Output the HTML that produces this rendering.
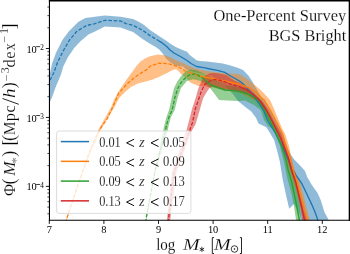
<!DOCTYPE html>
<html><head><meta charset="utf-8"><style>
html,body{margin:0;padding:0;background:#fff;}
body{width:350px;height:254px;overflow:hidden;}
svg{display:block;will-change:transform;}
text{font-family:"Liberation Serif",serif;fill:#000;stroke:#fff;stroke-width:0.3px;stroke-opacity:0.6;}
.tk,.sup{stroke:none;}
.lg{font-size:14px;}
.lgz{font-size:14.5px;}
.tk{font-size:10.4px;}
.sup{font-size:7.2px;}
.tt{font-size:17.2px;}
.xl{font-size:16px;}
.xls{font-size:10px;}
.yl{font-size:16.5px;}
</style></head><body>
<svg width="350" height="254" viewBox="0 0 350 254">
<rect width="350" height="254" fill="#fff"/>
<defs><clipPath id="ax"><rect x="49.45" y="0.70" width="299.90" height="219.60"/></clipPath></defs>
<g clip-path="url(#ax)">
<polygon points="44.0,95.0 49.5,75.0 52.1,63.6 56.1,52.6 62.4,40.0 68.7,31.5 78.5,21.7 85.4,18.1 95.0,16.7 104.8,15.4 120.6,16.7 126.0,17.7 133.1,18.9 137.8,21.2 143.7,24.8 150.0,30.0 155.7,33.8 161.3,37.6 167.0,41.3 170.0,43.5 175.7,47.1 181.3,49.5 187.0,51.8 190.0,55.2 196.6,60.2 199.5,61.0 207.0,61.6 215.0,62.5 222.7,63.5 229.7,65.3 237.6,67.8 243.0,70.0 248.4,75.5 252.0,81.0 256.0,88.0 260.0,95.0 263.5,100.0 268.0,107.0 270.0,110.0 274.0,118.0 278.0,126.0 282.0,134.0 285.5,142.0 288.5,150.0 291.0,155.0 294.7,160.0 299.4,164.7 305.0,171.0 307.3,177.3 312.0,185.2 317.6,193.1 320.7,200.0 324.4,212.0 329.0,220.4 332.0,228.0 303.0,228.0 300.0,215.0 294.0,204.0 289.2,208.8 286.0,195.0 282.8,180.0 279.8,161.5 276.9,149.7 274.0,139.8 270.0,133.0 266.3,127.3 258.5,123.4 256.0,117.8 251.3,111.5 245.0,106.8 238.0,101.0 233.0,94.0 225.0,86.0 212.0,76.0 200.0,73.0 193.2,71.7 186.0,69.5 183.0,66.5 175.5,65.7 170.0,62.0 166.0,58.5 163.0,54.0 159.5,49.8 155.7,47.0 150.0,43.8 142.5,39.0 137.8,35.4 133.1,31.9 126.0,29.5 120.6,27.5 104.8,26.6 95.0,31.5 88.4,34.4 80.5,41.3 74.2,47.9 67.9,57.3 63.2,66.8 60.8,75.0 56.1,86.0 52.1,97.0 49.5,103.0 44.0,118.0" fill="#1f77b4" fill-opacity="0.50" stroke="none"/>
<polygon points="65.5,228.0 66.1,220.0 78.8,182.0 87.8,156.0 98.4,129.7 111.5,106.5 113.9,100.0 118.5,91.5 123.4,84.2 128.0,77.5 132.8,70.9 136.5,66.0 140.4,61.5 145.0,58.6 150.0,56.3 157.9,54.4 164.2,55.2 168.9,56.8 175.5,60.0 180.0,62.0 183.0,63.0 188.0,65.5 195.4,68.5 206.5,71.0 217.5,72.5 226.0,73.3 238.8,74.0 246.0,78.0 254.4,84.7 260.7,90.0 265.5,95.0 270.0,100.0 274.5,110.0 278.5,120.0 282.0,128.0 285.5,135.0 289.0,146.0 291.5,158.0 294.8,170.0 299.8,182.0 303.5,195.0 307.0,210.0 309.8,220.0 311.0,228.0 305.0,228.0 304.0,220.0 303.0,215.0 300.0,205.0 297.0,195.0 293.0,182.0 289.0,170.0 285.5,158.0 282.0,148.0 278.5,138.0 275.0,131.0 271.0,123.0 267.0,115.0 262.0,107.0 256.0,101.0 250.0,98.0 240.0,93.0 225.0,90.0 215.0,88.0 205.0,86.5 198.6,85.9 190.7,82.8 186.0,78.0 181.0,74.0 178.5,71.0 176.0,69.2 172.8,70.1 166.1,73.4 159.4,76.8 152.7,79.5 146.0,81.5 138.5,83.2 130.9,87.0 125.3,91.8 119.6,97.5 117.0,102.0 114.8,106.5 100.8,129.7 89.1,156.0 79.5,182.0 66.7,220.0 66.5,228.0" fill="#ff7f0e" fill-opacity="0.50" stroke="none"/>
<polygon points="144.3,228.0 145.7,220.0 154.4,172.0 163.0,131.3 164.5,124.4 166.5,117.0 169.0,110.0 171.6,98.2 174.1,88.1 177.0,82.0 180.4,77.0 186.1,71.0 190.3,69.6 195.8,70.3 202.7,73.1 210.0,76.5 220.0,82.0 225.0,85.5 235.0,86.5 245.0,89.0 252.0,92.5 258.0,97.5 264.0,105.0 268.0,112.0 272.0,119.5 276.0,127.0 280.0,135.0 283.5,144.0 286.5,153.0 289.0,161.0 291.5,170.0 293.9,177.0 296.0,185.0 298.5,193.5 300.0,205.0 301.3,220.0 302.0,228.0 296.5,228.0 296.0,220.0 294.0,206.0 291.5,193.5 287.7,180.0 283.8,161.5 279.8,145.7 276.5,138.0 273.9,130.0 268.0,126.0 264.0,120.0 260.7,110.0 258.0,108.0 254.4,105.2 250.0,103.0 245.0,100.5 240.0,101.0 231.9,100.8 219.1,100.0 210.6,88.7 205.4,84.1 200.0,80.7 193.0,79.3 187.0,81.0 181.0,88.1 177.9,97.0 174.7,110.0 171.0,117.0 168.9,124.4 167.5,131.3 155.3,172.0 146.3,220.0 145.3,228.0" fill="#2ca02c" fill-opacity="0.50" stroke="none"/>
<polygon points="166.0,228.0 167.0,219.2 172.0,172.0 186.4,130.5 189.2,120.0 192.3,108.0 195.6,98.2 197.9,89.7 199.3,85.9 202.0,80.0 205.5,75.4 209.6,73.3 214.3,73.0 217.5,73.3 226.0,75.0 235.0,81.0 245.0,85.0 252.0,91.0 258.0,97.0 262.0,100.5 268.5,110.0 273.0,119.0 277.5,127.0 281.5,134.0 285.5,146.0 289.5,158.0 292.8,170.0 296.8,182.0 300.0,195.0 303.0,206.0 305.5,215.0 306.9,220.0 308.0,228.0 303.0,228.0 302.2,220.0 300.5,208.0 298.0,195.0 294.5,182.0 290.5,170.0 287.0,158.0 283.0,146.0 278.8,134.0 274.0,126.0 270.0,118.0 265.0,109.0 258.0,101.0 254.0,99.0 248.0,95.0 240.0,92.0 230.0,90.0 220.0,88.5 212.8,86.5 209.7,87.8 206.4,92.5 203.1,98.2 200.3,108.0 198.0,116.0 195.4,124.4 191.5,131.3 176.5,172.0 170.3,219.2 170.0,228.0" fill="#d62728" fill-opacity="0.50" stroke="none"/>
<polyline points="44.0,95.0 50.6,79.0 53.7,73.0 57.7,62.0 63.2,51.0 69.5,40.0 76.6,31.5 86.4,25.6 95.0,23.6 104.8,20.3 120.6,21.0 126.0,23.6 133.1,25.4 139.0,28.3 144.9,31.9 150.0,35.6 155.7,39.0 158.7,40.8" fill="none" stroke="#1f77b4" stroke-width="1.3" stroke-dasharray="3.6,1.7" stroke-linejoin="round"/>
<polyline points="158.7,40.8 161.3,42.3 167.0,46.8 170.0,50.0 174.0,53.0 181.3,57.0 187.0,60.5 191.0,63.5 196.6,66.5 204.9,67.9 210.0,69.0 217.5,70.3 224.8,72.4 230.5,76.0 236.0,79.0 241.5,82.4 245.7,86.5 249.1,90.7 252.5,94.1 255.0,98.0 260.0,105.0 263.5,110.0 267.4,120.0 272.0,127.5 275.9,134.0 280.0,142.0 284.0,150.0 287.5,158.0 290.0,164.0 292.0,169.0 294.5,172.5 296.3,175.7 300.0,181.0 301.8,183.6 305.6,191.5 308.6,197.8 311.8,204.6 315.0,212.0 317.6,219.4 319.0,228.0" fill="none" stroke="#1f77b4" stroke-width="1.35" stroke-linejoin="round"/>
<polyline points="64.0,228.0 66.4,220.0 67.8,215.3 79.1,181.3 88.4,155.0 92.0,146.0 99.5,129.7 107.3,118.6 113.0,106.5 118.6,93.3 126.5,84.4 134.4,77.6 140.0,73.7 147.9,68.8 150.0,66.2 159.4,63.1 168.9,63.9 176.8,66.2 180.0,67.5 186.0,71.5 191.0,73.3 191.3,73.4" fill="none" stroke="#ff7f0e" stroke-width="1.3" stroke-dasharray="3.6,1.7" stroke-linejoin="round"/>
<polyline points="191.3,73.4 195.4,74.3 201.7,76.5 209.6,78.0 217.5,79.6 226.0,81.2 233.3,83.0 241.5,84.8 249.7,88.0 256.0,92.5 260.0,96.5 264.1,100.0 270.2,110.0 275.0,119.0 279.0,127.0 282.5,134.0 286.0,146.0 290.3,158.0 293.1,170.0 297.3,182.0 301.0,197.0 305.0,212.0 307.5,220.0 309.0,228.0" fill="none" stroke="#ff7f0e" stroke-width="1.35" stroke-linejoin="round"/>
<polyline points="146.0,228.0 146.0,219.2 154.8,172.0 165.3,131.3 166.7,124.4 169.0,117.0 172.2,110.0 174.7,98.2 177.9,88.1 181.0,82.7 186.1,77.2 190.3,74.5 195.8,73.8 202.7,77.9 205.0,80.0" fill="none" stroke="#2ca02c" stroke-width="1.3" stroke-dasharray="3.6,1.7" stroke-linejoin="round"/>
<polyline points="205.0,80.0 209.5,84.1 212.0,85.5 217.5,87.5 224.8,90.0 233.3,90.7 241.5,92.0 248.4,94.1 252.0,96.0 258.0,100.0 264.5,110.0 269.5,120.0 275.5,132.0 280.0,142.0 283.5,152.0 286.0,160.0 288.1,170.0 291.7,182.0 295.5,200.0 299.4,220.0 300.0,228.0" fill="none" stroke="#2ca02c" stroke-width="1.35" stroke-linejoin="round"/>
<polyline points="168.0,228.0 168.5,219.2 174.0,172.0 189.5,131.3 192.5,122.4 195.6,108.0 198.4,100.1 201.2,91.6 204.5,84.9 208.0,82.0 212.8,79.6 217.5,79.6 224.0,81.5 230.0,84.0 235.0,85.5 238.8,86.5 241.5,87.6" fill="none" stroke="#d62728" stroke-width="1.3" stroke-dasharray="3.6,1.7" stroke-linejoin="round"/>
<polyline points="241.5,87.6 245.7,89.3 252.9,94.2 259.3,100.0 266.2,110.0 271.5,120.0 276.5,130.0 280.5,138.0 284.5,148.0 288.3,158.0 291.5,170.0 295.7,182.0 300.0,200.0 304.5,220.0 305.0,228.0" fill="none" stroke="#d62728" stroke-width="1.35" stroke-linejoin="round"/>
</g>
<rect x="56.60" y="131.00" width="134.30" height="82.40" rx="2.5" ry="2.5" fill="#ffffff" fill-opacity="0.8" stroke="#d8d8d8" stroke-width="0.9"/>
<line x1="60.8" y1="141.60" x2="89" y2="141.60" stroke="#1f77b4" stroke-width="1.5"/>
<text x="99.2" y="146.60" class="lg" textLength="21.6" lengthAdjust="spacingAndGlyphs">0.01</text>
<path d="M134.1,139.20 L126.6,142.85 L134.1,146.50" fill="none" stroke="#000" stroke-width="0.95" stroke-linejoin="miter"/>
<text x="139.0" y="146.60" class="lgz" font-style="italic">z</text>
<path d="M158.5,139.20 L151.0,142.85 L158.5,146.50" fill="none" stroke="#000" stroke-width="0.95" stroke-linejoin="miter"/>
<text x="162.9" y="146.60" class="lg" textLength="22.0" lengthAdjust="spacingAndGlyphs">0.05</text>
<line x1="60.8" y1="161.35" x2="89" y2="161.35" stroke="#ff7f0e" stroke-width="1.5"/>
<text x="99.2" y="166.35" class="lg" textLength="21.6" lengthAdjust="spacingAndGlyphs">0.05</text>
<path d="M134.1,158.95 L126.6,162.60 L134.1,166.25" fill="none" stroke="#000" stroke-width="0.95" stroke-linejoin="miter"/>
<text x="139.0" y="166.35" class="lgz" font-style="italic">z</text>
<path d="M158.5,158.95 L151.0,162.60 L158.5,166.25" fill="none" stroke="#000" stroke-width="0.95" stroke-linejoin="miter"/>
<text x="162.9" y="166.35" class="lg" textLength="22.0" lengthAdjust="spacingAndGlyphs">0.09</text>
<line x1="60.8" y1="181.10" x2="89" y2="181.10" stroke="#2ca02c" stroke-width="1.5"/>
<text x="99.2" y="186.10" class="lg" textLength="21.6" lengthAdjust="spacingAndGlyphs">0.09</text>
<path d="M134.1,178.70 L126.6,182.35 L134.1,186.00" fill="none" stroke="#000" stroke-width="0.95" stroke-linejoin="miter"/>
<text x="139.0" y="186.10" class="lgz" font-style="italic">z</text>
<path d="M158.5,178.70 L151.0,182.35 L158.5,186.00" fill="none" stroke="#000" stroke-width="0.95" stroke-linejoin="miter"/>
<text x="162.9" y="186.10" class="lg" textLength="22.0" lengthAdjust="spacingAndGlyphs">0.13</text>
<line x1="60.8" y1="200.85" x2="89" y2="200.85" stroke="#d62728" stroke-width="1.5"/>
<text x="99.2" y="205.85" class="lg" textLength="21.6" lengthAdjust="spacingAndGlyphs">0.13</text>
<path d="M134.1,198.45 L126.6,202.10 L134.1,205.75" fill="none" stroke="#000" stroke-width="0.95" stroke-linejoin="miter"/>
<text x="139.0" y="205.85" class="lgz" font-style="italic">z</text>
<path d="M158.5,198.45 L151.0,202.10 L158.5,205.75" fill="none" stroke="#000" stroke-width="0.95" stroke-linejoin="miter"/>
<text x="162.9" y="205.85" class="lg" textLength="22.0" lengthAdjust="spacingAndGlyphs">0.17</text>
<line x1="48.90" y1="0.7" x2="350" y2="0.7" stroke="#000" stroke-width="1.4"/>
<line x1="48.90" y1="220.30" x2="350" y2="220.30" stroke="#000" stroke-width="1.1"/>
<line x1="49.45" y1="0" x2="49.45" y2="220.85" stroke="#000" stroke-width="1.1"/>
<line x1="349.35" y1="0" x2="349.35" y2="220.85" stroke="#000" stroke-width="1.3"/>
<line x1="49.30" y1="220.30" x2="49.30" y2="223.90" stroke="#000" stroke-width="0.9"/>
<text x="49.30" y="233.0" class="tk" text-anchor="middle">7</text>
<line x1="103.90" y1="220.30" x2="103.90" y2="223.90" stroke="#000" stroke-width="0.9"/>
<text x="103.90" y="233.0" class="tk" text-anchor="middle">8</text>
<line x1="158.50" y1="220.30" x2="158.50" y2="223.90" stroke="#000" stroke-width="0.9"/>
<text x="158.50" y="233.0" class="tk" text-anchor="middle">9</text>
<line x1="213.10" y1="220.30" x2="213.10" y2="223.90" stroke="#000" stroke-width="0.9"/>
<text x="213.10" y="233.0" class="tk" text-anchor="middle">10</text>
<line x1="267.70" y1="220.30" x2="267.70" y2="223.90" stroke="#000" stroke-width="0.9"/>
<text x="267.70" y="233.0" class="tk" text-anchor="middle">11</text>
<line x1="322.30" y1="220.30" x2="322.30" y2="223.90" stroke="#000" stroke-width="0.9"/>
<text x="322.30" y="233.0" class="tk" text-anchor="middle">12</text>
<line x1="49.45" y1="48.53" x2="45.85" y2="48.53" stroke="#000" stroke-width="0.9"/>
<text x="26.4" y="52.63" class="tk">10</text>
<line x1="36.1" y1="46.63" x2="40.1" y2="46.63" stroke="#000" stroke-width="0.75"/>
<text x="40.3" y="50.13" class="sup">2</text>
<line x1="49.45" y1="117.45" x2="45.85" y2="117.45" stroke="#000" stroke-width="0.9"/>
<text x="26.4" y="121.55" class="tk">10</text>
<line x1="36.1" y1="115.55" x2="40.1" y2="115.55" stroke="#000" stroke-width="0.75"/>
<text x="40.3" y="119.05" class="sup">3</text>
<line x1="49.45" y1="186.38" x2="45.85" y2="186.38" stroke="#000" stroke-width="0.9"/>
<text x="26.4" y="190.47" class="tk">10</text>
<line x1="36.1" y1="184.47" x2="40.1" y2="184.47" stroke="#000" stroke-width="0.75"/>
<text x="40.3" y="187.97" class="sup">4</text>
<line x1="49.45" y1="213.80" x2="47.35" y2="213.80" stroke="#000" stroke-width="0.7"/>
<line x1="49.45" y1="207.12" x2="47.35" y2="207.12" stroke="#000" stroke-width="0.7"/>
<line x1="49.45" y1="201.67" x2="47.35" y2="201.67" stroke="#000" stroke-width="0.7"/>
<line x1="49.45" y1="197.05" x2="47.35" y2="197.05" stroke="#000" stroke-width="0.7"/>
<line x1="49.45" y1="193.05" x2="47.35" y2="193.05" stroke="#000" stroke-width="0.7"/>
<line x1="49.45" y1="189.53" x2="47.35" y2="189.53" stroke="#000" stroke-width="0.7"/>
<line x1="49.45" y1="165.63" x2="47.35" y2="165.63" stroke="#000" stroke-width="0.7"/>
<line x1="49.45" y1="153.49" x2="47.35" y2="153.49" stroke="#000" stroke-width="0.7"/>
<line x1="49.45" y1="144.88" x2="47.35" y2="144.88" stroke="#000" stroke-width="0.7"/>
<line x1="49.45" y1="138.20" x2="47.35" y2="138.20" stroke="#000" stroke-width="0.7"/>
<line x1="49.45" y1="132.74" x2="47.35" y2="132.74" stroke="#000" stroke-width="0.7"/>
<line x1="49.45" y1="128.13" x2="47.35" y2="128.13" stroke="#000" stroke-width="0.7"/>
<line x1="49.45" y1="124.13" x2="47.35" y2="124.13" stroke="#000" stroke-width="0.7"/>
<line x1="49.45" y1="120.60" x2="47.35" y2="120.60" stroke="#000" stroke-width="0.7"/>
<line x1="49.45" y1="96.70" x2="47.35" y2="96.70" stroke="#000" stroke-width="0.7"/>
<line x1="49.45" y1="84.56" x2="47.35" y2="84.56" stroke="#000" stroke-width="0.7"/>
<line x1="49.45" y1="75.95" x2="47.35" y2="75.95" stroke="#000" stroke-width="0.7"/>
<line x1="49.45" y1="69.27" x2="47.35" y2="69.27" stroke="#000" stroke-width="0.7"/>
<line x1="49.45" y1="63.82" x2="47.35" y2="63.82" stroke="#000" stroke-width="0.7"/>
<line x1="49.45" y1="59.20" x2="47.35" y2="59.20" stroke="#000" stroke-width="0.7"/>
<line x1="49.45" y1="55.20" x2="47.35" y2="55.20" stroke="#000" stroke-width="0.7"/>
<line x1="49.45" y1="51.68" x2="47.35" y2="51.68" stroke="#000" stroke-width="0.7"/>
<line x1="49.45" y1="27.78" x2="47.35" y2="27.78" stroke="#000" stroke-width="0.7"/>
<line x1="49.45" y1="15.64" x2="47.35" y2="15.64" stroke="#000" stroke-width="0.7"/>
<line x1="49.45" y1="7.03" x2="47.35" y2="7.03" stroke="#000" stroke-width="0.7"/>
<text x="346.3" y="21.3" class="tt" text-anchor="end" textLength="132.8" lengthAdjust="spacingAndGlyphs">One-Percent Survey</text>
<text x="346.3" y="40.5" class="tt" text-anchor="end" textLength="77.6" lengthAdjust="spacingAndGlyphs">BGS Bright</text>
<text x="156.2" y="249.6" class="xl" textLength="19.2" lengthAdjust="spacingAndGlyphs">log</text>
<text x="182.9" y="249.6" class="xl" font-style="italic" textLength="16.6" lengthAdjust="spacingAndGlyphs">M</text>
<line x1="201.90" y1="247.20" x2="201.90" y2="251.60" stroke="#000" stroke-width="0.75" stroke-linecap="round"/><line x1="199.99" y1="248.30" x2="203.81" y2="250.50" stroke="#000" stroke-width="0.75" stroke-linecap="round"/><line x1="203.81" y1="248.30" x2="199.99" y2="250.50" stroke="#000" stroke-width="0.75" stroke-linecap="round"/>
<path d="M214.0,237.6 H212.3 V253.5 H214.0" fill="none" stroke="#000" stroke-width="0.85"/>
<text x="214.1" y="249.6" class="xl" font-style="italic" textLength="16.6" lengthAdjust="spacingAndGlyphs">M</text>
<circle cx="234.5" cy="249.0" r="3.3" fill="none" stroke="#000" stroke-width="0.75"/><circle cx="234.5" cy="249.0" r="0.75" fill="#000"/>
<path d="M239.9,237.6 H241.5 V253.5 H239.9" fill="none" stroke="#000" stroke-width="0.85"/>
<g transform="translate(15.4,195.9) rotate(-90)"><text x="-0.10" y="0.00" font-size="16.5">&#934;</text><text x="11.50" y="0.00" font-size="18.0">(</text><text x="20.20" y="0.00" font-size="16.5" font-style="italic" textLength="14.3" lengthAdjust="spacingAndGlyphs">M</text><text x="32.60" y="4.50" font-size="11.5">*</text><text x="39.10" y="0.00" font-size="18.0">)</text><text x="50.50" y="0.00" font-size="18.0">[</text><text x="54.80" y="0.00" font-size="18.0">(</text><text x="60.70" y="0.00" font-size="16.5" textLength="13.7" lengthAdjust="spacingAndGlyphs">M</text><text x="74.70" y="0.00" font-size="16.5">p</text><text x="83.30" y="0.00" font-size="16.5">c</text><text x="97.80" y="0.00" font-size="16.5" font-style="italic" textLength="9.6" lengthAdjust="spacingAndGlyphs">h</text><text x="107.70" y="0.00" font-size="18.0">)</text><text x="114.60" y="-5.70" font-size="11.5" textLength="6.8" lengthAdjust="spacingAndGlyphs">&#8722;</text><text x="122.70" y="-6.00" font-size="12.0">3</text><text x="128.30" y="0.00" font-size="16.5">d</text><text x="137.20" y="0.00" font-size="16.5">e</text><text x="145.70" y="0.00" font-size="16.5" textLength="7.0" lengthAdjust="spacingAndGlyphs">x</text><text x="153.10" y="-7.20" font-size="11.5" textLength="6.8" lengthAdjust="spacingAndGlyphs">&#8722;</text><text x="161.90" y="-7.60" font-size="12.0">1</text><text x="166.50" y="0.00" font-size="18.0">]</text><line x1="91.6" y1="3.4" x2="97.4" y2="-12.9" stroke="#000" stroke-width="0.85"/></g>
</svg>
</body></html>
